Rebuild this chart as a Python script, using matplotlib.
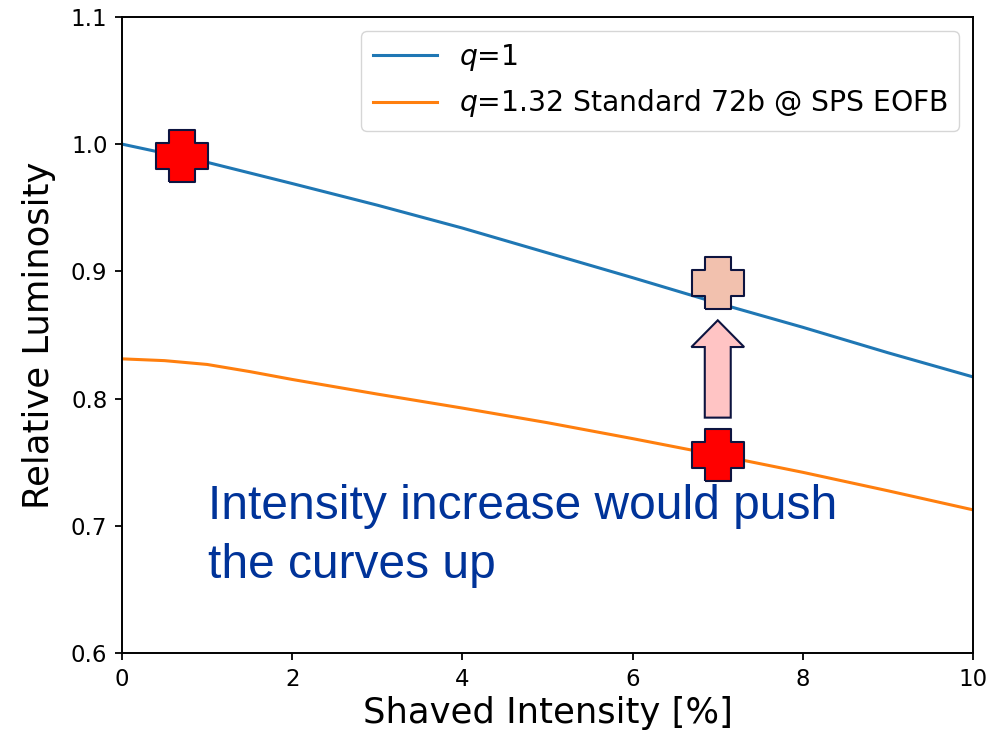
import numpy as np
import matplotlib
matplotlib.use('Agg')
import matplotlib.pyplot as plt
from matplotlib.patches import FancyArrow

shaved_q1 = [0, 1, 2, 3, 4, 5, 6, 7, 8, 9, 10]
lumi_q1 = [1.000, 0.9857, 0.969, 0.952, 0.934, 0.9145, 0.895, 0.875, 0.856, 0.836, 0.817]
shaved_q132 = [0, 0.5, 1, 1.5, 2, 3, 4, 5, 6, 7, 8, 9, 10]
lumi_q132 = [0.8312, 0.8298, 0.8268, 0.8212, 0.815, 0.8035, 0.7925, 0.781, 0.7685, 0.7555, 0.742, 0.7275, 0.7125]

label_q1 = r'$q$=1'
label_q132 = r'$q$=1.32 Standard 72b @ SPS EOFB'

# red crosses on the curves, and the "pushed up" one
cross_x = [0.7, 7.0]
cross_y = [0.991, 0.756]
pushed_x = 7.0
pushed_y = 0.891
arrow_y0 = 0.785
arrow_y1 = 0.8615

note = 'Intensity increase would push\nthe curves up'

a = 0.5
cross = [(-a, -1), (a, -1), (a, -a), (1, -a), (1, a), (a, a), (a, 1),
         (-a, 1), (-a, a), (-1, a), (-1, -a), (-a, -a), (-a, -1)]
navy = '#0d1440'

fig = plt.figure(figsize=(9.97, 7.35), dpi=100)
ax = fig.add_axes([0.1224, 0.1116, 0.976 - 0.1224, 0.977 - 0.1116])

ax.plot(shaved_q1, lumi_q1, color='#1f77b4', lw=2.2, label=label_q1)
ax.plot(shaved_q132, lumi_q132, color='#ff7f0e', lw=2.2, label=label_q132)

ax.plot(cross_x, cross_y, ls='none', marker=cross, ms=37, mfc='#ff0000',
        mec=navy, mew=1.5, zorder=5)
ax.plot([pushed_x], [pushed_y], ls='none', marker=cross, ms=37, mfc='#f2c1ae',
        mec=navy, mew=1.5, zorder=5)

arr = FancyArrow(pushed_x, arrow_y0, 0, arrow_y1 - arrow_y0, width=0.305,
                 head_width=0.62, head_length=0.021, length_includes_head=True,
                 fc='#ffc4c4', ec=navy, lw=1.5, zorder=5)
ax.add_patch(arr)

ax.text(1.01, 0.659, note, fontsize=34.5, family='Liberation Sans',
        color='#003399', va='baseline', linespacing=1.39)

ax.set_xlim(0, 10)
ax.set_ylim(0.6, 1.1)
ax.set_xticks([0, 2, 4, 6, 8, 10])
ax.set_yticks([0.6, 0.7, 0.8, 0.9, 1.0, 1.1])
ax.tick_params(labelsize=16.5, width=1.3, length=5, pad=5.5)
for s in ax.spines.values():
    s.set_linewidth(1.4)
ax.set_xlabel('Shaved Intensity [%]', fontsize=25.5)
ax.set_ylabel('Relative Luminosity', fontsize=25.5)
ax.yaxis.set_label_coords(-0.078, 0.5)
ax.legend(loc='upper right', fontsize=20.3, handlelength=2.3, handletextpad=0.75)

fig.savefig('out.png', dpi=100)
